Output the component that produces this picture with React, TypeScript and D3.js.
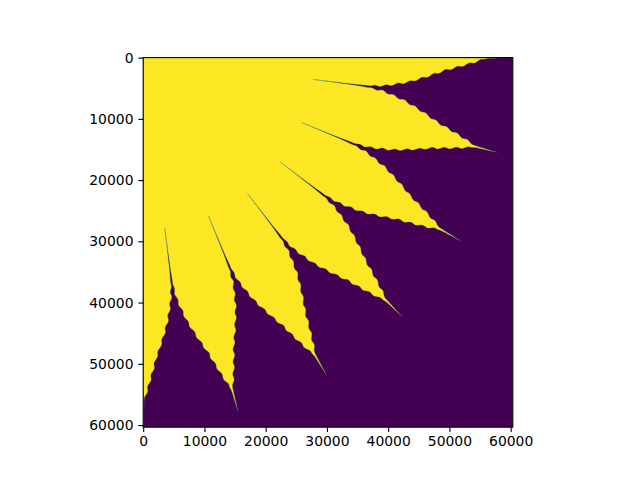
import React, { useEffect, useRef } from 'react';
import * as d3 from 'd3';

// image extent (pixels of the original image)
const EXTENT = 60350;
const tickValues = [0, 10000, 20000, 30000, 40000, 50000, 60000];

// petal tips and the slits between them (degrees, measured from the +x axis towards +y)
const tipAngles = [0, 15, 30, 45, 60, 75, 90];
const gapAngles = [7.3, 22.3, 37.3, 52.5, 67.6, 82.8];

// boundary profile: radius reached at a given angular offset from the slit
// (offsets read for a 7.5 degree half sector)
const profileOffset = [0, 0.03, 0.12, 0.3, 0.7, 2.1, 5.0, 6.3, 7.35, 7.5];
const profileRadius = [28000, 31000, 35000, 37700, 39800, 43500, 49300, 53000, 56000, 59800];

// small ripple on the petal edges
const rippleAmp = 140;
const rippleLength = 1900;

const YELLOW = '#fde725';
const PURPLE = '#440154';
const TEAL = '#21918c';

const App: React.FC = () => {
  const svgRef = useRef<SVGSVGElement>(null);

  useEffect(() => {
    if (!svgRef.current) return;
    const svg = d3.select(svgRef.current);
    svg.selectAll('*').remove();

    const left = 143.2, right = 512.8, top = 57.6, bottom = 427.2;
    const x = d3.scaleLinear().domain([0, EXTENT]).range([left, right]);
    const y = d3.scaleLinear().domain([0, EXTENT]).range([top, bottom]);

    svg.append('defs').append('clipPath').attr('id', 'ax-clip')
      .append('rect')
      .attr('x', left).attr('y', top)
      .attr('width', right - left).attr('height', bottom - top);

    const rMin = profileRadius[0];
    const rMax = profileRadius[profileRadius.length - 1];

    // one side of a slit, from the slit end out to the petal tip
    const halfSector = (gap: number, tip: number): [number, number][] => {
      const span = Math.abs(tip - gap);
      const sgn = Math.sign(tip - gap);
      const offset = d3.scaleLinear()
        .domain(profileRadius)
        .range(profileOffset.map(v => v * span / 7.5))
        .clamp(true);
      const phase = sgn > 0 ? 0 : Math.PI / 2;
      const out: [number, number][] = [];
      for (let r = rMin; r <= rMax; r += 80) {
        const taper = Math.max(0, Math.min(1, (r - 36500) / 2500)) *
          Math.max(0, Math.min(1, (56500 - r) / 1500));
        const ripple = (rippleAmp * Math.sin(2 * Math.PI * r / rippleLength + phase) / r) * 180 / Math.PI * taper;
        const theta = (gap + sgn * Math.max(0, offset(r) + ripple)) * Math.PI / 180;
        out.push([r * Math.cos(theta), r * Math.sin(theta)]);
      }
      const tr = tip * Math.PI / 180;
      out.push([rMax * Math.cos(tr), rMax * Math.sin(tr)]);
      return out;
    };

    const boundary: [number, number][] = [];
    gapAngles.forEach((g, i) => {
      boundary.push(...halfSector(g, tipAngles[i]).reverse());
      boundary.push(...halfSector(g, tipAngles[i + 1]));
    });

    const line = d3.line<[number, number]>()
      .x(d => x(d[0]))
      .y(d => y(d[1]));

    const plot = svg.append('g').attr('clip-path', 'url(#ax-clip)');

    plot.append('rect')
      .attr('x', left).attr('y', top)
      .attr('width', right - left).attr('height', bottom - top)
      .attr('fill', PURPLE);

    plot.append('path')
      .attr('d', line([[0, 0], ...boundary]) + 'Z')
      .attr('fill', YELLOW);

    plot.append('path')
      .attr('d', line(boundary))
      .attr('fill', 'none')
      .attr('stroke', TEAL)
      .attr('stroke-width', 0.5)
      .attr('stroke-opacity', 0.7);

    // axes
    const xAxis = svg.append('g')
      .attr('transform', `translate(0,${bottom})`)
      .call(d3.axisBottom(x).tickValues(tickValues).tickFormat(d3.format('d')).tickSize(4.86).tickPadding(4.4));
    const yAxis = svg.append('g')
      .attr('transform', `translate(${left},0)`)
      .call(d3.axisLeft(y).tickValues(tickValues).tickFormat(d3.format('d')).tickSize(4.86).tickPadding(4.86));

    [xAxis, yAxis].forEach(a => {
      a.select('.domain').remove();
      a.selectAll('line').attr('stroke', '#000').attr('stroke-width', 1.11);
      a.selectAll('text')
        .attr('fill', '#000')
        .style('font-family', '"DejaVu Sans", sans-serif')
        .style('font-size', '13.9px');
    });

    svg.append('rect')
      .attr('x', left).attr('y', top)
      .attr('width', right - left).attr('height', bottom - top)
      .attr('fill', 'none')
      .attr('stroke', '#000')
      .attr('stroke-width', 1.11);
  }, []);

  return (
    <svg
      ref={svgRef}
      width={640}
      height={480}
      style={{ position: 'absolute', left: 0, top: 0, background: '#fff' }}
    />
  );
};

export default App;
